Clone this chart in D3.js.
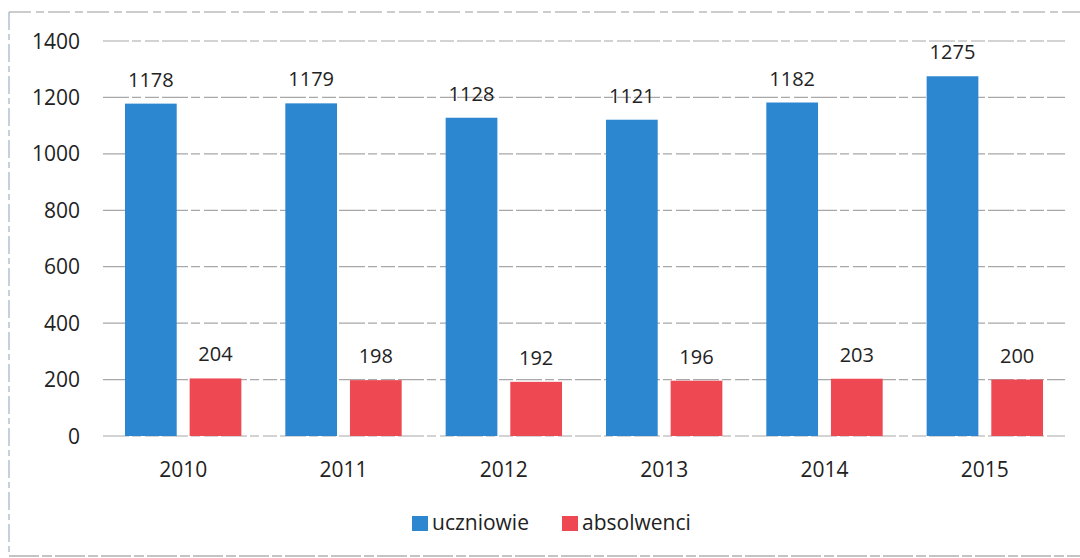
<!DOCTYPE html>
<html>
<head>
<meta charset="utf-8">
<script src="https://cdn.jsdelivr.net/npm/d3@7"></script>
<style>
  html, body { margin: 0; padding: 0; background: #fff; }
  svg { display: block; }
  text { font-family: "Open Sans", "Noto Sans", sans-serif; fill: #222; }
</style>
</head>
<body>
<svg id="chart" width="1080" height="558"></svg>
<script>
// Liczba uczniów i absolwentów w latach 2010–2015
const years = ["2010", "2011", "2012", "2013", "2014", "2015"];
const uczniowie = [1178, 1179, 1128, 1121, 1182, 1275];
const absolwenci = [204, 198, 192, 196, 203, 200];
const seriesNames = ["uczniowie", "absolwenci"];
const seriesColors = ["#2c86d0", "#ee4953"];
const yTicks = [0, 200, 400, 600, 800, 1000, 1200, 1400];

const svg = d3.select("#chart");
const W = 1080, H = 558;
const plot = { left: 103, right: 1065, top: 41, bottom: 436 };

// outer frame (dashed bluish scan-like border)
svg.append("line").attr("x1", 9).attr("x2", 9).attr("y1", 12).attr("y2", 556)
  .attr("stroke", "#9fb2c8").attr("stroke-width", 1.2).attr("stroke-dasharray", "18,4,6,4");
svg.append("line").attr("x1", 9).attr("x2", 1080).attr("y1", 12).attr("y2", 12)
  .attr("stroke", "#9a9a9a").attr("stroke-width", 1).attr("stroke-dasharray", "22,5,8,4");
svg.append("line").attr("x1", 9).attr("x2", 1080).attr("y1", 556).attr("y2", 556)
  .attr("stroke", "#8a8a8a").attr("stroke-width", 1.2).attr("stroke-dasharray", "30,3,10,3");

const x = d3.scaleBand().domain(years).range([plot.left, plot.right]).padding(0);
const y = d3.scaleLinear().domain([0, 1400]).range([plot.bottom, plot.top]);

// gridlines
svg.append("g").selectAll("line").data(yTicks).join("line")
  .attr("x1", plot.left).attr("x2", plot.right)
  .attr("y1", d => y(d)).attr("y2", d => y(d))
  .attr("stroke", "#a8a8a8").attr("stroke-width", 1.2)
  .attr("stroke-dasharray", "26,3,9,4,14,3");

// y axis labels
svg.append("g").selectAll("text").data(yTicks).join("text")
  .attr("x", 80).attr("y", d => y(d))
  .attr("dy", "0.36em").attr("text-anchor", "end")
  .style("font-size", "21px").text(d => d);

// x axis labels
svg.append("g").selectAll("text").data(years).join("text")
  .attr("x", d => x(d) + x.bandwidth() / 2).attr("y", 477)
  .attr("text-anchor", "middle").style("font-size", "21px").text(d => d);

// bars within each year group
const inner = d3.scaleBand().domain(seriesNames)
  .range([0, x.bandwidth()]).paddingInner(0.2).paddingOuter(0.34);

const rows = years.map((yr, i) => ({ year: yr, values: [uczniowie[i], absolwenci[i]] }));

const groups = svg.append("g").selectAll("g").data(rows).join("g")
  .attr("transform", d => `translate(${x(d.year)},0)`);

groups.selectAll("rect")
  .data(d => d.values.map((v, k) => ({ key: seriesNames[k], value: v, k })))
  .join("rect")
  .attr("x", d => inner(d.key))
  .attr("width", inner.bandwidth())
  .attr("y", d => y(d.value))
  .attr("height", d => y(0) - y(d.value))
  .attr("fill", d => seriesColors[d.k]);

groups.selectAll("text.val")
  .data(d => d.values.map((v, k) => ({ key: seriesNames[k], value: v })))
  .join("text").attr("class", "val")
  .attr("x", d => inner(d.key) + inner.bandwidth() / 2)
  .attr("y", d => y(d.value) - 17)
  .attr("text-anchor", "middle")
  .style("font-size", "20px")
  .text(d => d.value);

// legend
const legend = svg.append("g").attr("transform", "translate(412,516)");
const legendX = [0, 150];
seriesNames.forEach((name, k) => {
  const g = legend.append("g").attr("transform", `translate(${legendX[k]},0)`);
  g.append("rect").attr("width", 16).attr("height", 15).attr("fill", seriesColors[k]);
  g.append("text").attr("x", 20).attr("y", 14).style("font-size", "21px").text(name);
});
</script>
</body>
</html>
